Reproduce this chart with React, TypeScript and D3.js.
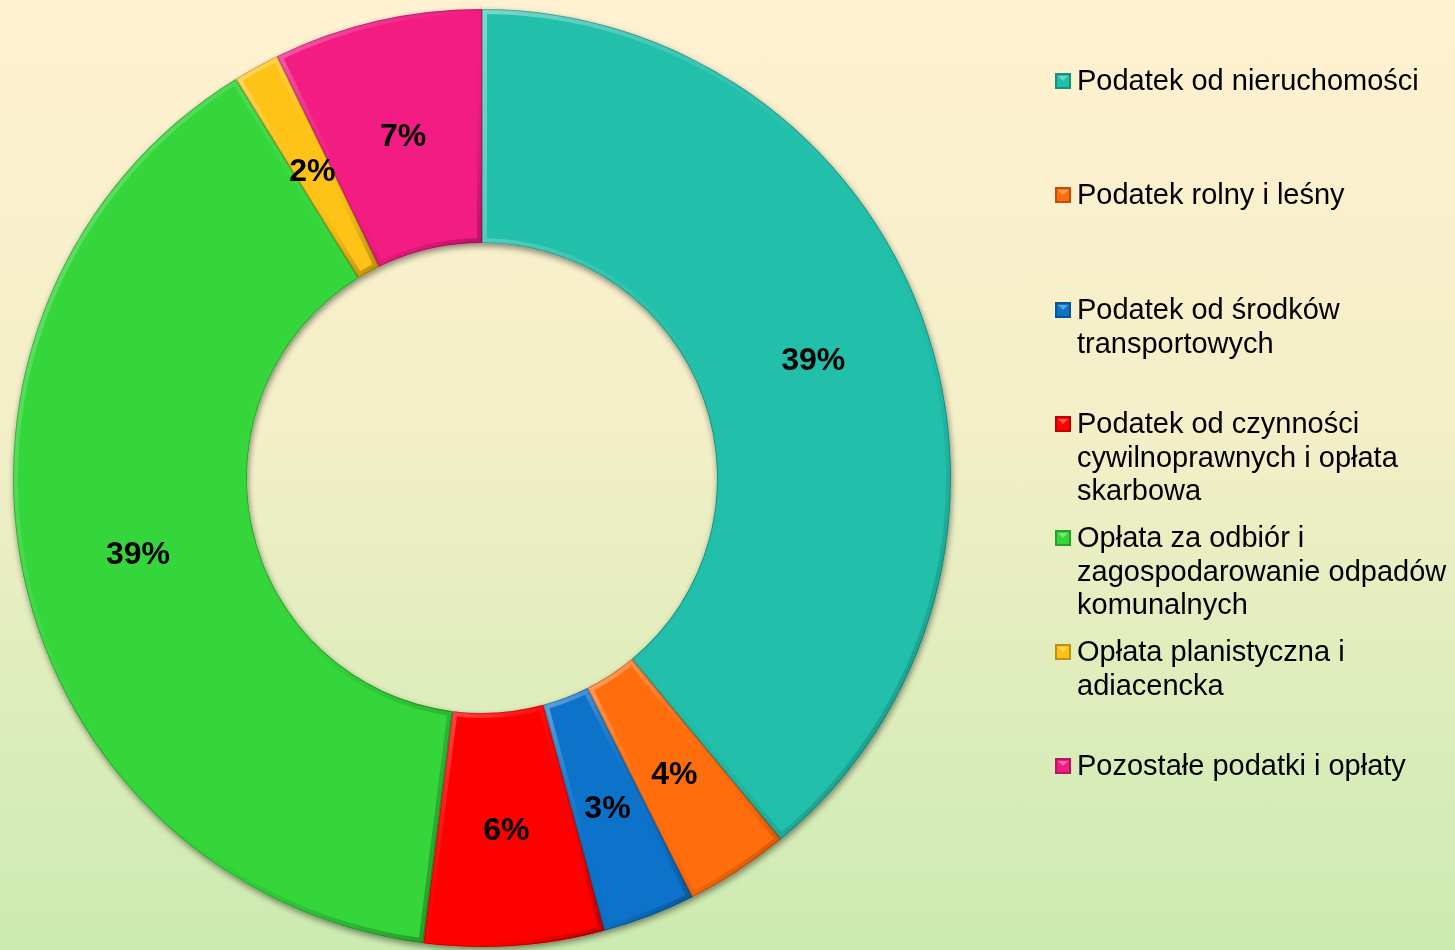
import React from 'react';
import { pie, arc, PieArcDatum } from 'd3';

const categories = [
  'Podatek od nieruchomości',
  'Podatek rolny i leśny',
  'Podatek od środków transportowych',
  'Podatek od czynności cywilnoprawnych i opłata skarbowa',
  'Opłata za odbiór i zagospodarowanie odpadów komunalnych',
  'Opłata planistyczna i adiacencka',
  'Pozostałe podatki i opłaty',
];
// legend text split into lines as in the original
const legendLines = [
  ['Podatek od nieruchomości'],
  ['Podatek rolny i leśny'],
  ['Podatek od środków', 'transportowych'],
  ['Podatek od czynności', 'cywilnoprawnych i opłata', 'skarbowa'],
  ['Opłata za odbiór i', 'zagospodarowanie odpadów', 'komunalnych'],
  ['Opłata planistyczna i', 'adiacencka'],
  ['Pozostałe podatki i opłaty'],
];
const shares = [39.0, 3.6, 3.2, 6.2, 39.2, 1.6, 7.2];
const colors = ['#20bfaa', '#ff6d0a', '#0b72c9', '#ff0202', '#35d63a', '#ffc214', '#f21c83'];

const W = 1455;
const H = 950;
const cx = 482;
const cy = 478;
const outerR = 469;
const innerR = 235;

type Slice = { name: string; value: number; color: string };

export default function App() {
  const data: Slice[] = categories.map((name, i) => ({ name, value: shares[i], color: colors[i] }));
  const total = shares.reduce((a, b) => a + b, 0);

  const arcs = pie<Slice>().value(d => d.value).sort(null)(data);
  const arcGen = arc<PieArcDatum<Slice>>().innerRadius(innerR).outerRadius(outerR);

  const legendX = 1055;
  const lineH = 33.7;
  const itemTops = [90, 204, 319, 433, 547, 661, 775];

  return (
    <div style={{ position: 'absolute', left: 0, top: 0 }}>
      <svg width={W} height={H} style={{ display: 'block', fontFamily: 'Arial, "Liberation Sans", sans-serif' }}>
        <defs>
          <linearGradient id="bg" x1="0" y1="0" x2="0" y2="1">
            <stop offset="0%" stopColor="#fff1d1" />
            <stop offset="45%" stopColor="#f3efc8" />
            <stop offset="100%" stopColor="#cbebb0" />
          </linearGradient>
          <filter id="shadow" x="-10%" y="-10%" width="120%" height="120%">
            <feGaussianBlur in="SourceAlpha" stdDeviation="3" />
            <feOffset dx="1" dy="3" result="b" />
            <feComponentTransfer>
              <feFuncA type="linear" slope="0.45" />
            </feComponentTransfer>
            <feMerge>
              <feMergeNode />
              <feMergeNode in="SourceGraphic" />
            </feMerge>
          </filter>
          {arcs.map((a, i) => (
            <clipPath id={`clip${i}`} key={i}>
              <path d={arcGen(a) || ''} transform={`translate(${cx},${cy})`} />
            </clipPath>
          ))}
          {colors.map((c, i) => (
            <linearGradient id={`lg${i}`} key={i} x1="0" y1="0" x2="1" y2="1">
              <stop offset="0%" stopColor="#fff" stopOpacity="0.4" />
              <stop offset="55%" stopColor={c} stopOpacity="0" />
              <stop offset="100%" stopColor="#000" stopOpacity="0.3" />
            </linearGradient>
          ))}
        </defs>
        <rect x={0} y={0} width={W} height={H} fill="url(#bg)" />

        <g filter="url(#shadow)">
          {arcs.map((a, i) => (
            <path key={i} d={arcGen(a) || ''} transform={`translate(${cx},${cy})`} fill={a.data.color} />
          ))}
        </g>
        {arcs.map((a, i) => (
          <g key={`bevel${i}`} clipPath={`url(#clip${i})`}>
            <path
              d={arcGen(a) || ''}
              transform={`translate(${cx},${cy})`}
              fill="none"
              stroke={`url(#lg${i})`}
              strokeWidth={10}
            />
            <path
              d={arcGen(a) || ''}
              transform={`translate(${cx},${cy})`}
              fill="none"
              stroke="#000"
              strokeOpacity={0.22}
              strokeWidth={2}
            />
          </g>
        ))}

        {arcs.map((a, i) => {
          const [x, y] = arcGen.centroid(a);
          return (
            <text
              key={`lbl${i}`}
              x={cx + x}
              y={cy + y}
              textAnchor="middle"
              dominantBaseline="central"
              fontSize={32}
              fontWeight="bold"
              fill="#000"
            >
              {Math.round((a.data.value / total) * 100)}%
            </text>
          );
        })}

        {legendLines.map((lines, i) => (
          <g key={`leg${i}`}>
            <rect x={legendX} y={itemTops[i] - 17} width={16} height={16} fill={colors[i]} />
            <rect
              x={legendX + 1}
              y={itemTops[i] - 16}
              width={14}
              height={14}
              fill="none"
              stroke="#000"
              strokeOpacity={0.25}
              strokeWidth={2}
            />
            <path
              d={`M${legendX + 3},${itemTops[i] - 14} L${legendX + 13},${itemTops[i] - 14} L${legendX + 8},${itemTops[i] - 9} Z`}
              fill="#fff"
              fillOpacity={0.35}
            />
            {lines.map((ln, j) => (
              <text key={j} x={1077} y={itemTops[i] + j * lineH} fontSize={29} fill="#000">
                {ln}
              </text>
            ))}
          </g>
        ))}
      </svg>
    </div>
  );
}
